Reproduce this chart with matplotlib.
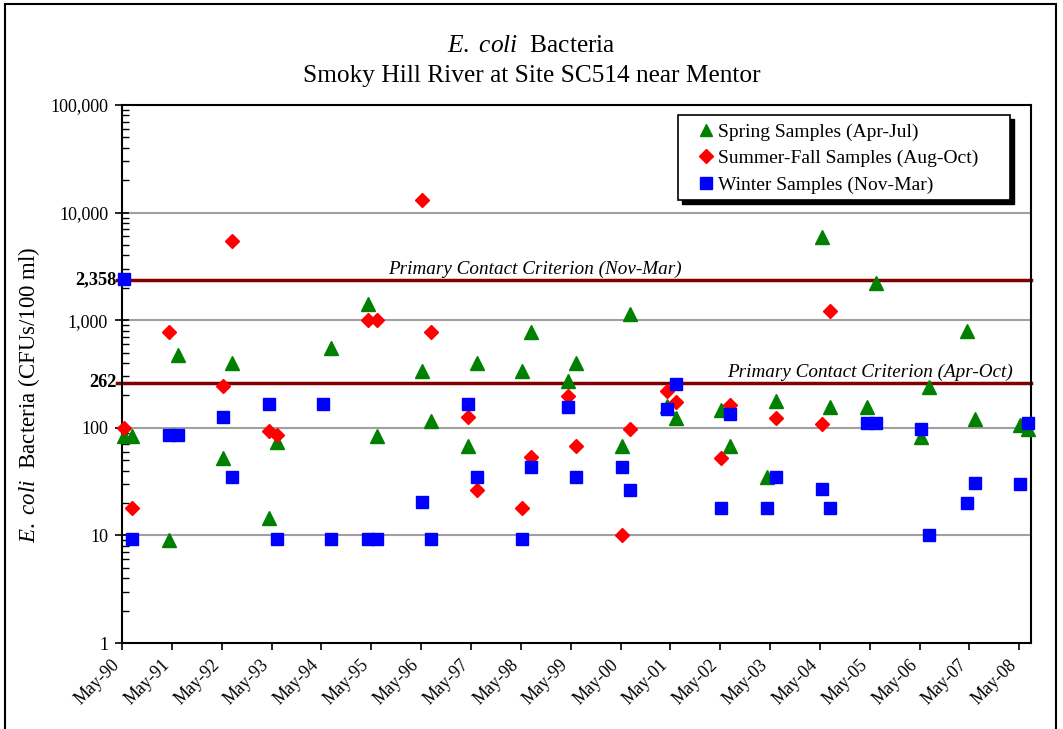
import matplotlib
matplotlib.use("Agg")
import matplotlib.pyplot as plt
import matplotlib.dates as mdates
import matplotlib.transforms as mtransforms
import pandas as pd
from matplotlib.patches import Rectangle
from matplotlib.ticker import FixedLocator, LogLocator, NullFormatter

plt.rcParams["font.family"] = ["Liberation Serif", "DejaVu Serif"]
plt.rcParams["mathtext.fontset"] = "custom"
plt.rcParams["mathtext.rm"] = "Liberation Serif"
plt.rcParams["mathtext.it"] = "Liberation Serif:italic"

# Spring samples (Apr-Jul)
spring_dates = [
    "1990-05-13", "1990-07-13", "1991-04-12", "1991-06-12", "1992-05-13", "1992-07-15",
    "1993-04-13", "1993-06-13", "1994-07-10", "1995-04-10", "1995-06-12", "1996-05-10",
    "1996-07-12", "1997-04-12", "1997-06-12", "1998-05-12", "1998-07-12", "1999-04-10",
    "1999-06-10", "2000-05-10", "2000-07-10", "2001-04-04", "2001-06-12", "2002-05-04",
    "2002-07-10", "2003-04-12", "2003-06-12", "2004-05-13", "2004-07-13", "2005-04-13",
    "2005-06-13", "2006-05-10", "2006-07-10", "2007-04-10", "2007-06-10", "2008-05-04",
    "2008-07-06",
]
spring_values = [
    84, 84, 9.1, 475, 52, 398,
    14.4, 74, 548, 1415, 84, 340,
    116, 68, 398, 340, 772, 274,
    398, 68, 1135, 160, 123, 146,
    68, 35, 179, 5970, 157, 157,
    2230, 82, 241, 799, 121, 106,
    98,
]

# Summer-fall samples (Aug-Oct)
summer_dates = [
    "1990-05-13", "1990-07-13", "1991-04-12", "1992-05-13", "1992-07-15", "1993-04-13",
    "1993-06-13", "1995-04-10", "1995-06-12", "1996-05-10", "1996-07-12", "1997-04-12",
    "1997-06-12", "1998-05-12", "1998-07-12", "1999-04-10", "1999-06-10", "2000-05-10",
    "2000-07-10", "2001-04-04", "2001-06-12", "2002-05-04", "2002-07-10", "2003-06-12",
    "2004-05-13", "2004-07-13",
]
summer_values = [
    100, 18, 772, 245, 5480, 94,
    86, 1000, 1000, 13100, 772, 125,
    26.4, 17.9, 53, 198, 68, 10,
    97, 221, 175, 52, 163, 123,
    108, 1225,
]

# Winter samples (Nov-Mar)
winter_dates = [
    "1990-05-13", "1990-07-13", "1991-04-12", "1991-06-12", "1992-05-13", "1992-07-15",
    "1993-04-13", "1993-06-13", "1994-05-13", "1994-07-10", "1995-04-10", "1995-06-12",
    "1996-05-10", "1996-07-12", "1997-04-12", "1997-06-12", "1998-05-12", "1998-07-12",
    "1999-04-10", "1999-06-10", "2000-05-10", "2000-07-10", "2001-04-04", "2001-06-12",
    "2002-05-04", "2002-07-10", "2003-04-12", "2003-06-12", "2004-05-13", "2004-07-13",
    "2005-04-13", "2005-06-13", "2006-05-10", "2006-07-10", "2007-04-10", "2007-06-10",
    "2008-05-04", "2008-07-06",
]
winter_values = [
    2400, 9.3, 85, 85, 125, 35,
    165, 9.3, 165, 9.3, 9.3, 9.3,
    20.6, 9.3, 165, 35, 9.3, 43.5,
    157, 35, 43.5, 26.4, 150, 254,
    18, 134, 18, 35, 26.8, 18,
    110, 110, 97.5, 10, 20.1, 30.9,
    30, 110,
]

criteria = [2358, 262]
criteria_labels = ["2,358", "262"]
criteria_text = ["Primary Contact Criterion (Nov-Mar)", "Primary Contact Criterion (Apr-Oct)"]
y_ticks = [1, 10, 100, 1000, 10000, 100000]
y_ticklabels = ["1", "10", "100", "1,000", "10,000", "100,000"]
x_ticks = pd.date_range("1990-05-01", "2008-05-01", freq="12MS")

fig = plt.figure(figsize=(10.63, 7.29), dpi=100)
ax = fig.add_axes([122 / 1063, 1 - 643 / 729, (1031 - 122) / 1063, (643 - 105) / 729])
ydata_x_axes = mtransforms.blended_transform_factory(ax.transAxes, ax.transData)

# Outer chart-area frame
fig.patches.append(Rectangle((5 / 1063, -0.01), (1056 - 5) / 1063, 1.01 - 4 / 729,
                             transform=fig.transFigure, fill=False, ec="black", lw=1.5))

for v in [10, 100, 1000, 10000]:
    ax.axhline(v, color="#a0a0a0", lw=1.5, zorder=1)

for value, label in zip(criteria, criteria_labels):
    ax.axhline(value, xmin=-0.006, xmax=1, color="#800000", lw=2.5, zorder=2, clip_on=False)
    ax.text(-0.006, value, label, transform=ydata_x_axes,
            ha="right", va="center", fontsize=13.2, fontweight="bold")

ax.text(0.454, criteria[0] * 1.04, criteria_text[0], style="italic", fontsize=13.8,
        ha="center", va="bottom", transform=ydata_x_axes)
ax.text(0.823, criteria[1] * 1.04, criteria_text[1], style="italic", fontsize=13.8,
        ha="center", va="bottom", transform=ydata_x_axes)

ax.plot(pd.to_datetime(spring_dates), spring_values, linestyle="none", marker="^", markersize=10,
        color="#008000", label="Spring Samples (Apr-Jul)", zorder=3, clip_on=False)
ax.plot(pd.to_datetime(summer_dates), summer_values, linestyle="none", marker="D", markersize=7.5,
        color="#ff0000", label="Summer-Fall Samples (Aug-Oct)", zorder=4, clip_on=False)
ax.plot(pd.to_datetime(winter_dates), winter_values, linestyle="none", marker="s", markersize=9,
        color="#0000ff", label="Winter Samples (Nov-Mar)", zorder=5, clip_on=False)

ax.set_yscale("log")
ax.set_ylim(1, 100000)
ax.yaxis.set_major_locator(FixedLocator(y_ticks))
ax.set_yticklabels(y_ticklabels)
ax.yaxis.set_minor_locator(LogLocator(base=10, subs=range(2, 10)))
ax.yaxis.set_minor_formatter(NullFormatter())
ax.tick_params(axis="y", which="major", direction="inout", length=10, width=1.2, labelsize=13, pad=5)
ax.tick_params(axis="y", which="minor", direction="in", length=5, width=1)

ax.set_xlim(pd.Timestamp("1990-05-01"), pd.Timestamp("2008-07-25"))
ax.set_xticks(x_ticks)
ax.xaxis.set_major_formatter(mdates.DateFormatter("%b-%y"))
ax.tick_params(axis="x", direction="out", length=5, width=1.2, labelsize=12.8, pad=9)
shift_left = mtransforms.ScaledTranslation(-5 / 100, 0, fig.dpi_scale_trans)
for lbl in ax.get_xticklabels():
    lbl.set_rotation(45)
    lbl.set_ha("right")
    lbl.set_va("center")
    lbl.set_rotation_mode("anchor")
    lbl.set_transform(lbl.get_transform() + shift_left)

for spine in ax.spines.values():
    spine.set_linewidth(1.5)
    spine.set_color("black")

ax.set_ylabel(r"$\mathit{E.\ coli}$  Bacteria (CFUs/100 ml)", fontsize=16.5)
ax.yaxis.set_label_coords(-0.088, 0.461)
fig.text(0.5, 1 - 46 / 729, r"$\mathit{E.\ coli}$  Bacteria", ha="center", va="center", fontsize=18.3)
fig.text(0.5, 1 - 76 / 729, "Smoky Hill River at Site SC514 near Mentor", ha="center", va="center",
         fontsize=18.3)

# Legend box with solid drop shadow, drawn by hand so the padding matches
lx0, lx1 = (678 - 122) / 909, (1010 - 122) / 909
ly0, ly1 = (643 - 200) / 538, (643 - 115) / 538
ax.add_patch(Rectangle((lx0 + 4 / 909, ly0 - 4 / 538), lx1 - lx0, ly1 - ly0, transform=ax.transAxes,
                       facecolor="black", edgecolor="black", zorder=6, clip_on=False))
ax.add_patch(Rectangle((lx0, ly0), lx1 - lx0, ly1 - ly0, transform=ax.transAxes,
                       facecolor="white", edgecolor="black", lw=1.2, zorder=7, clip_on=False))
leg = ax.legend(loc="upper left", bbox_to_anchor=((696 - 122) / 909, (643 - 123) / 538), borderaxespad=0,
                fontsize=14, frameon=False, handletextpad=0.15, labelspacing=0.46, borderpad=0,
                handlelength=1.0, markerscale=0.9)
leg.set_zorder(8)

fig.savefig("out.png", dpi=100)
